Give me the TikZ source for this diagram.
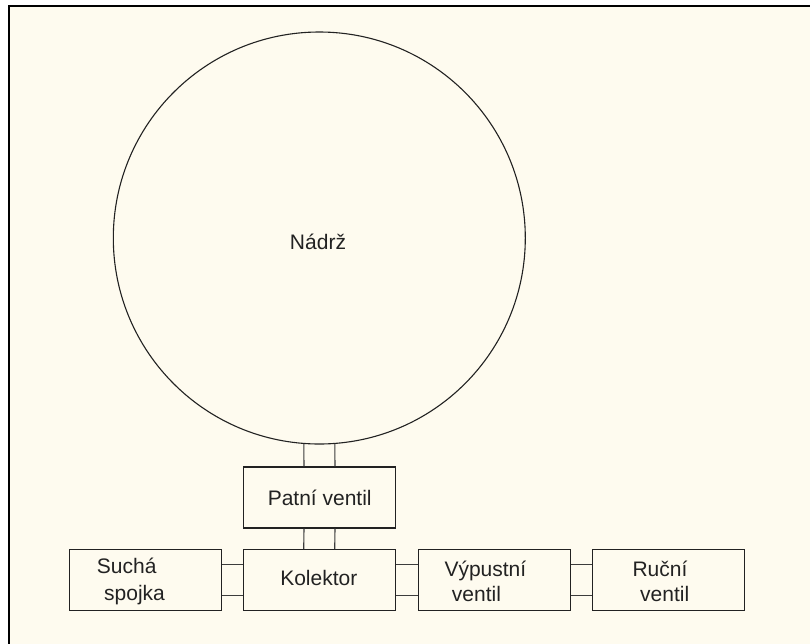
\documentclass[tikz,border=0pt]{standalone}
\usepackage{fontspec}
\setmainfont{Liberation Sans}
\usetikzlibrary{calc}
\definecolor{paper}{RGB}{254,251,239}
\definecolor{ink}{RGB}{34,34,34}
\definecolor{wire}{RGB}{60,60,60}
\begin{document}
\begin{tikzpicture}[x=1pt,y=-1pt,
  part/.style={draw=ink, line width=1.3pt, rectangle, minimum width=152pt, minimum height=61pt, inner sep=0pt},
  lbl/.style={text=ink, inner sep=0pt, font=\fontsize{21}{25}\selectfont},
  pipe/.style={draw=wire, line width=1.1pt}]
\useasboundingbox (0,0) rectangle (810,643);
\fill[white] (0,0) rectangle (810,643);
\draw[fill=paper, draw=black, line width=2pt] (8.5,5.5) rectangle (815,650);
% tank
\node[circle, draw=ink, line width=1.1pt, minimum size=412pt, inner sep=0pt] (tank) at (319.3,238) {};
\node[lbl, anchor=base] (tanklbl) at (318,249) {Nádrž};
% boxes
\node[part] (patni) at (319.5,497.5) {};
\node[part] (kolektor) at (319.2,580.2) {};
\node[part] (sucha) at (145.5,580.2) {};
\node[part] (vypustni) at (494.5,580.2) {};
\node[part] (rucni) at (668.3,580.2) {};
% labels
\node[lbl, anchor=base] (patnilbl) at (319.7,505) {Patní ventil};
\node[lbl, anchor=base] (kolektorlbl) at (318.8,585) {Kolektor};
\node[lbl, anchor=base west] (sucha1) at (96.7,573.3) {Suchá};
\node[lbl, anchor=base west] (sucha2) at (104,600) {spojka};
\node[lbl, anchor=base west] (vyp1) at (444.3,576.5) {Výpustní};
\node[lbl, anchor=base west] (vyp2) at (451.7,601.5) {ventil};
\node[lbl, anchor=base west] (ruc1) at (632.3,576.5) {Ruční};
\node[lbl, anchor=base west] (ruc2) at (640,601.5) {ventil};
% pipes
\foreach \s in {-15.5,15.5}{
  \draw[pipe] ([xshift=\s pt, yshift=0.6pt]tank.south) -- ([xshift=\s pt]patni.north);
  \draw[pipe] ([xshift=\s pt]patni.south) -- ([xshift=\s pt]kolektor.north);
  \draw[pipe] ([yshift=\s pt]sucha.east) -- ([yshift=\s pt]kolektor.west);
  \draw[pipe] ([yshift=\s pt]kolektor.east) -- ([yshift=\s pt]vypustni.west);
  \draw[pipe] ([yshift=\s pt]vypustni.east) -- ([yshift=\s pt]rucni.west);
}
\end{tikzpicture}
\end{document}
